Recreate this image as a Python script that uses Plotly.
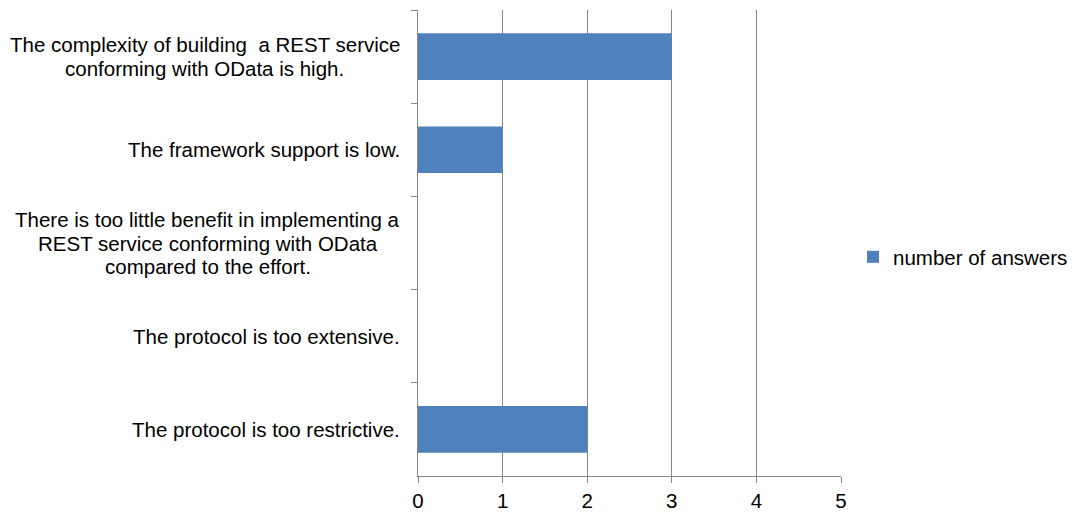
import plotly.graph_objects as go

categories = [
    "The complexity of building  a REST service<br>conforming with OData is high.",
    "The framework support is low.",
    "There is too little benefit in implementing a<br>REST service conforming with OData<br>compared to the effort.",
    "The protocol is too extensive.",
    "The protocol is too restrictive.",
]
cat_ids = ["c1", "c2", "c3", "c4", "c5"]
answers = [3, 1, 0, 0, 2]
series_name = "number of answers"
x_ticks = [0, 1, 2, 3, 4, 5]

FONT = "Liberation Sans, Arial, sans-serif"
GRID = "#868686"
FS = 20.5
LINE_H = 23.5

fig = go.Figure()
fig.add_trace(go.Bar(
    y=cat_ids, x=answers, orientation="h", name=series_name,
    marker=dict(color="#4F81BD", line=dict(width=0)),
    showlegend=True,
))

# category labels: each line its own annotation so line spacing matches
for cid, label in zip(cat_ids, categories):
    lines = label.split("<br>")
    n = len(lines)
    for i, s in enumerate(lines):
        fig.add_annotation(
            x=0, y=cid, xref="x", yref="y", text=s, showarrow=False,
            xanchor="center", yanchor="middle",
            xshift=0, yshift=-(i - (n - 1) / 2) * LINE_H,
            font=dict(family=FONT, size=FS, color="#000000"),
            name=f"{cid}_{i}",
        )

fig.update_layout(
    width=1075, height=513,
    margin=dict(l=418, r=234, t=10, b=37, autoexpand=False),
    paper_bgcolor="white", plot_bgcolor="white",
    bargap=0.5,
    font=dict(family=FONT, size=FS, color="#000000"),
    xaxis=dict(
        range=[0, 5], tickvals=x_ticks, showgrid=True, gridcolor=GRID, gridwidth=1,
        showline=True, linecolor=GRID, linewidth=1,
        ticks="outside", ticklen=6, tickcolor=GRID, zeroline=False,
        tickfont=dict(family=FONT, size=FS, color="#000000"),
    ),
    yaxis=dict(
        autorange="reversed", showticklabels=False, showgrid=False,
        showline=True, linecolor=GRID, linewidth=1,
        ticks="outside", ticklen=6, tickcolor=GRID, tickson="boundaries",
        zeroline=False,
    ),
    legend=dict(
        xref="container", yref="container",
        x=853 / 1075, y=1 - 257 / 513, xanchor="left", yanchor="middle",
        font=dict(family=FONT, size=FS, color="#000000"),
        itemwidth=30, bgcolor="rgba(0,0,0,0)",
    ),
)

block_right = -18  # px from x=0

post_js = """
var gd = document.getElementsByClassName('plotly-graph-div')[0];
function fix(){
  var groups = {};
  var anns = gd.layout.annotations;
  var nodes = gd.querySelectorAll('.annotation');
  nodes.forEach(function(nd, k){
    var nm = anns[k].name.split('_')[0];
    var bb = nd.querySelector('text').getBBox();
    if(!(nm in groups)) groups[nm] = 0;
    groups[nm] = Math.max(groups[nm], bb.width);
  });
  var upd = {};
  anns.forEach(function(a, k){
    var nm = a.name.split('_')[0];
    upd['annotations['+k+'].xshift'] = %d - groups[nm]/2;
  });
  Plotly.relayout(gd, upd);
}
fix();
""" % block_right

fig.write_html("out.html", post_script=post_js)
